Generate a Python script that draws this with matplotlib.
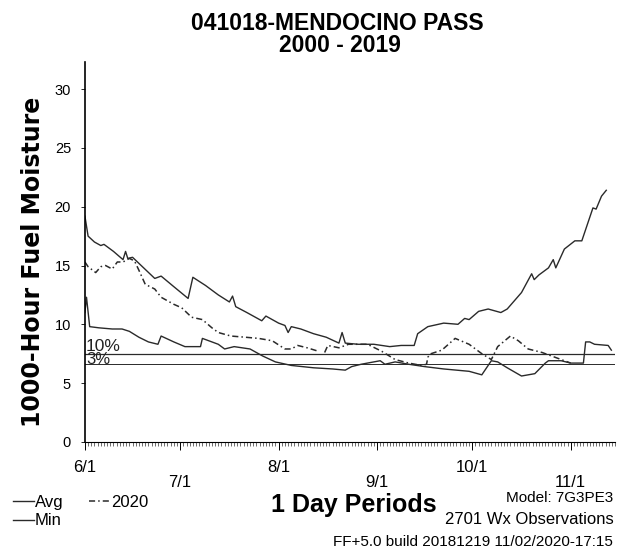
import numpy as np
import matplotlib
matplotlib.use("Agg")
import matplotlib.pyplot as plt
from matplotlib.ticker import MultipleLocator

plt.rcParams['font.family'] = ['Liberation Sans', 'DejaVu Sans']

# days counted from 6/1
avg_day = [0, 1, 3, 5, 6, 9, 12, 12.8, 13.5, 15, 18.5, 22, 24, 28, 32.5, 34, 38, 42,
           45.5, 46.5, 47.5, 51, 55.7, 57, 61, 63, 64, 65, 68, 72, 76, 80, 81, 82, 86,
           91, 96, 99.6, 103.7, 104.8, 108, 113, 117.5, 119.6, 121, 124, 127, 131, 133,
           137.5, 140.7, 141.5, 143, 146, 147.5, 148.3, 151, 154.3, 156.5, 160, 161,
           162.7, 164.2]
avg_val = [19.2, 17.5, 17.0, 16.7, 16.8, 16.2, 15.5, 16.2, 15.6, 15.7, 14.8, 13.9, 14.1,
           13.2, 12.2, 14.0, 13.3, 12.5, 11.9, 12.4, 11.5, 11.0, 10.3, 10.7, 10.1, 9.9,
           9.3, 9.8, 9.6, 9.2, 8.9, 8.4, 9.3, 8.4, 8.3, 8.3, 8.1, 8.2, 8.2, 9.2, 9.8,
           10.1, 10.0, 10.5, 10.4, 11.1, 11.3, 11.0, 11.3, 12.7, 14.3, 13.8, 14.2, 14.8,
           15.5, 14.8, 16.4, 17.1, 17.1, 19.9, 19.8, 20.9, 21.4]

min_day = [0, 0.5, 1.5, 4.4, 8.6, 11.7, 14, 17, 20, 23, 24, 28, 31.5, 36.4, 37, 42, 44,
           47, 52, 56, 60, 65, 72, 78, 82, 84, 87, 91, 93, 94.5, 97.7, 102, 107, 113,
           121, 125, 128, 130, 133, 137.5, 141.7, 145, 146, 150, 153, 157, 157.7, 159,
           160.5, 164.8, 165.8]
min_val = [11.0, 12.3, 9.8, 9.7, 9.6, 9.6, 9.4, 8.9, 8.5, 8.3, 9.0, 8.5, 8.1, 8.1, 8.8,
           8.3, 7.9, 8.1, 7.9, 7.3, 6.8, 6.5, 6.3, 6.2, 6.1, 6.4, 6.6, 6.8, 6.9, 6.6,
           6.8, 6.6, 6.4, 6.2, 6.0, 5.7, 6.9, 6.8, 6.3, 5.6, 5.8, 6.7, 6.9, 6.9, 6.7,
           6.7, 8.5, 8.5, 8.3, 8.2, 7.8]

y2020_day = [0, 1, 3.4, 5, 6.5, 8.6, 10.2, 12, 14, 15.6, 17, 19, 22, 24, 28, 30.5, 33.6,
             37, 40, 42, 46, 50.5, 54.7, 59, 63, 65, 67, 70, 73.6, 74.5, 75.5, 76.5, 80,
             83, 86, 89, 93.5, 97.7, 102, 106, 107.6, 108, 109, 112.4, 116.6, 121, 125,
             128, 130, 134, 136.5, 139.6, 144, 148, 152, 153]
y2020_val = [15.3, 14.9, 14.4, 14.9, 15.0, 14.7, 15.3, 15.3, 15.6, 15.4, 14.6, 13.4, 13.0,
             12.3, 11.7, 11.4, 10.6, 10.4, 9.7, 9.3, 9.0, 8.9, 8.8, 8.6, 7.9, 7.9, 8.2,
             8.0, 7.7, np.nan, 7.6, 8.2, 8.0, 8.3, 8.3, 8.3, 7.7, 7.0, 6.7, 6.5, 6.6, 7.2,
             7.5, 7.8, 8.8, 8.3, 7.5, 7.0, 8.1, 9.0, 8.6, 7.9, 7.6, 7.2, 6.8, 6.7]

pct10 = 7.45
pct3 = 6.6

month_days = [0, 30, 61, 92, 122, 153]
month_labels = ['6/1', '7/1', '8/1', '9/1', '10/1', '11/1']

fig = plt.figure(figsize=(6.29, 5.6), dpi=100)
ax = fig.add_axes([0.135, 0.211, 0.843, 0.678])

ink = '#2a2a2a'
ax.plot(avg_day, avg_val, color=ink, lw=1.0, label='Avg')
ax.plot(min_day, min_val, color=ink, lw=1.0, label='Min')
ax.plot(y2020_day, y2020_val, color=ink, lw=1.1, ls=(0, (4, 2, 1, 2)), label='2020')
ax.axhline(pct10, color=ink, lw=0.9)
ax.axhline(pct3, color=ink, lw=0.7)
ax.text(0.3, pct10 + 0.02, '10%', fontsize=12.5, va='bottom', ha='left', color='#222')
ax.text(0.3, pct3 - 0.25, '3%', fontsize=12, va='bottom', ha='left', color='#222')

ax.set_xlim(0, 167)
ax.set_ylim(0, 32.3)
ax.spines['top'].set_visible(False)
ax.spines['right'].set_visible(False)
ax.spines['left'].set_linewidth(1.2)
ax.spines['bottom'].set_linewidth(0.8)

ax.set_yticks([0, 5, 10, 15, 20, 25, 30])
ax.tick_params(axis='y', labelsize=10.5, length=3, width=0.6, pad=7)
ax.set_xticks(month_days)
ax.set_xticklabels([lab if i % 2 == 0 else '\n' + lab
                    for i, lab in enumerate(month_labels)])
ax.xaxis.set_minor_locator(MultipleLocator(1))
ax.tick_params(axis='x', which='major', labelsize=12, length=6, width=0.7, pad=7)
ax.tick_params(axis='x', which='minor', length=3, width=0.4)
for lab in ax.get_xticklabels():
    lab.set_linespacing(1.0)

ax.set_ylabel('1000-Hour Fuel Moisture', fontsize=17, fontweight='bold',
              family='DejaVu Sans')
ax.yaxis.set_label_coords(-0.076, 0.474)

fig.text(0.537, 1 - 29.5 / 560, '041018-MENDOCINO PASS', ha='center', va='baseline',
         fontsize=16.5, fontweight='bold')
fig.text(0.54, 1 - 51.5 / 560, '2000 - 2019', ha='center', va='baseline',
         fontsize=16.5, fontweight='bold')

ax.legend(loc='upper left', bbox_to_anchor=(0.02, 0.116), bbox_transform=fig.transFigure,
          ncol=2, frameon=False, fontsize=12, handlelength=1.3, handletextpad=0.05,
          labelspacing=0.2, columnspacing=1.5, borderpad=0, borderaxespad=0)

fig.text(0.562, 0.098, '1 Day Periods', ha='center', va='center', fontsize=18,
         fontweight='bold')
fig.text(0.975, 0.111, 'Model: 7G3PE3', ha='right', va='center', fontsize=11)
fig.text(0.975, 0.072, '2701 Wx Observations', ha='right', va='center', fontsize=12)
fig.text(0.975, 0.033, 'FF+5.0 build 20181219 11/02/2020-17:15', ha='right', va='center',
         fontsize=11)

fig.savefig('out.png', dpi=100)
